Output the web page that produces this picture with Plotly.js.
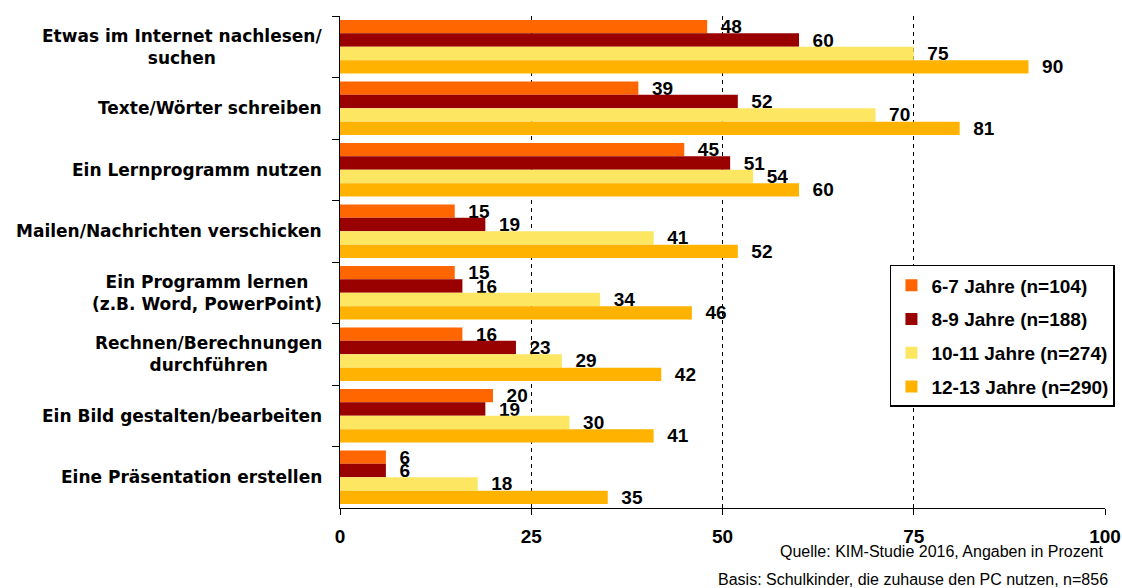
<!DOCTYPE html>
<html>
<head>
<meta charset="utf-8">
<script src="https://cdn.plot.ly/plotly-3.0.1.min.js"></script>
<style>html,body{margin:0;padding:0;background:#fff;}#chart{width:1122px;height:588px;}</style>
</head>
<body>
<div id="chart"></div>
<script>
const categories = [
  "Etwas im Internet nachlesen/<br>suchen",
  "Texte/Wörter schreiben",
  "Ein Lernprogramm nutzen",
  "Mailen/Nachrichten verschicken",
  "Ein Programm lernen<br>(z.B. Word, PowerPoint)",
  "Rechnen/Berechnungen<br>durchführen",
  "Ein Bild gestalten/bearbeiten",
  "Eine Präsentation erstellen"
];
const seriesNames = ["6-7 Jahre (n=104)", "8-9 Jahre (n=188)", "10-11 Jahre (n=274)", "12-13 Jahre (n=290)"];
const age6_7   = [48, 39, 45, 15, 15, 16, 20, 6];
const age8_9   = [60, 52, 51, 19, 16, 23, 19, 6];
const age10_11 = [75, 70, 54, 41, 34, 29, 30, 18];
const age12_13 = [90, 81, 60, 52, 46, 42, 41, 35];
const xTicks = [0, 25, 50, 75, 100];
const sourceNote = "Quelle: KIM-Studie 2016, Angaben in Prozent";
const baseNote = "Basis: Schulkinder, die zuhause den PC nutzen, n=856";

const colors = ["#FF6600", "#990000", "#FCE662", "#FFB300"];
const allSeries = [age6_7, age8_9, age10_11, age12_13];
const FONT = "Liberation Sans, Arial, sans-serif";
const WIDE = "DejaVu Sans, Liberation Sans, sans-serif";

const traces = allSeries.map((vals, i) => ({
  type: "bar",
  orientation: "h",
  name: seriesNames[i],
  legendgroup: "g" + i,
  x: vals,
  y: categories,
  marker: {color: colors[i], line: {width: 0}},
  text: vals.map(v => "\u00a0\u00a0" + v),
  textposition: "outside",
  constraintext: "none",
  cliponaxis: false,
  textfont: {family: FONT, size: 19, color: "#000", weight: "bold"},
  hoverinfo: "x+name"
}));

const annotations = categories.map(c => ({
  xref: "paper", yref: "y", x: 0, y: c,
  xanchor: "right", yanchor: "middle", xshift: -16,
  align: "center", showarrow: false,
  text: "<b>" + c + "</b>",
  font: {family: WIDE, size: 17, color: "#000"}
}));
annotations.push({
  xref: "paper", yref: "paper", x: 1.0, y: -0.089, xanchor: "right", yanchor: "middle",
  showarrow: false, text: sourceNote, font: {family: FONT, size: 16, color: "#000"}
});
annotations.push({
  xref: "paper", yref: "paper", x: 1.006, y: -0.145, xanchor: "right", yanchor: "middle",
  showarrow: false, text: baseNote, font: {family: FONT, size: 16, color: "#000"}
});

const layout = {
  width: 1122, height: 588,
  margin: {l: 340, r: 17, t: 16, b: 80, autoexpand: false},
  paper_bgcolor: "#fff", plot_bgcolor: "#fff",
  font: {family: FONT, color: "#000"},
  barmode: "group",
  bargap: 0.13,
  bargroupgap: 0,
  showlegend: true,
  legend: {
    x: 1.013, y: 0.494, xanchor: "right", yanchor: "top",
    bgcolor: "#fff", bordercolor: "#000", borderwidth: 1.5,
    font: {family: FONT, size: 19, color: "#000", weight: "bold"},
    traceorder: "grouped", tracegroupgap: 6
  },
  xaxis: {
    range: [0, 100], tickvals: xTicks, ticktext: xTicks.map(String),
    showgrid: true, gridcolor: "#000", gridwidth: 1, griddash: "4px,4px",
    showline: true, linecolor: "#000", linewidth: 1,
    ticks: "outside", ticklen: 6, tickcolor: "#000",
    zeroline: false, ticklabelstandoff: 5,
    tickfont: {family: FONT, size: 19, color: "#000", weight: "bold"},
    fixedrange: true
  },
  yaxis: {
    type: "category", autorange: "reversed",
    showticklabels: false, tickson: "boundaries",
    ticks: "outside", ticklen: 7, tickcolor: "#000",
    showline: true, linecolor: "#000", linewidth: 1,
    showgrid: false, zeroline: false, fixedrange: true
  },
  annotations: annotations
};

Plotly.newPlot("chart", traces, layout, {displayModeBar: false, staticPlot: true});
</script>
</body>
</html>
